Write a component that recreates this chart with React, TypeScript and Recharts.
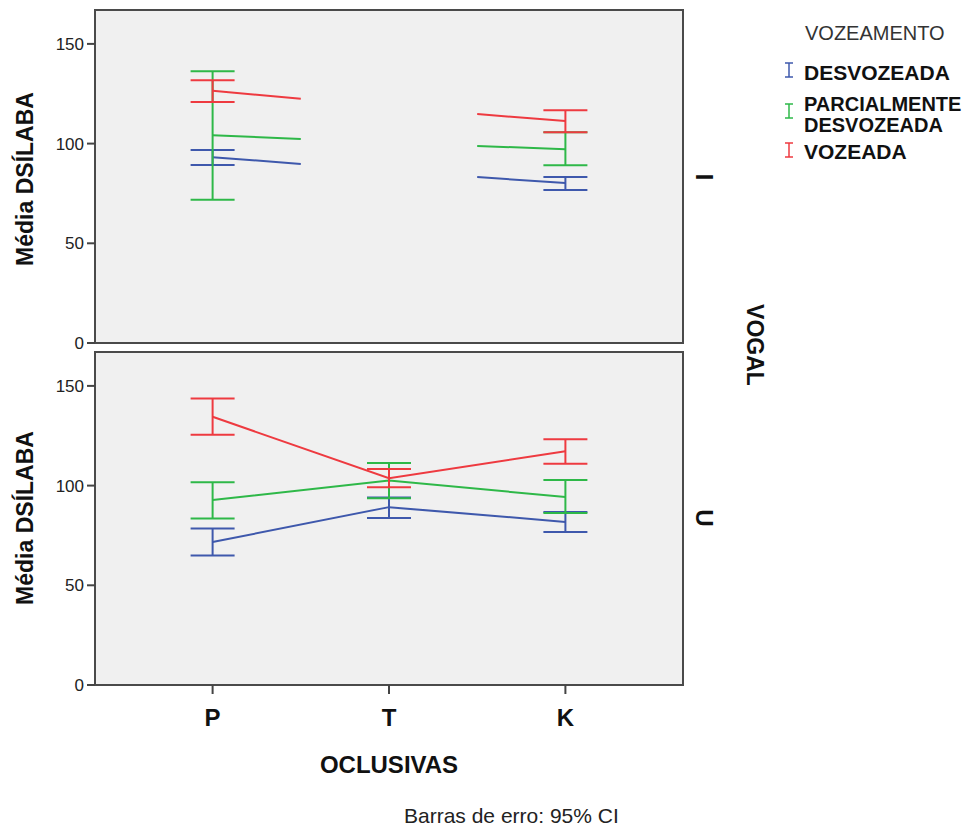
import React from 'react'
import { CartesianGrid, ErrorBar, Line, LineChart, ReferenceArea, XAxis, YAxis } from 'recharts'

const oclusivas = ['P', 'T', 'K']
const vogais = ['I', 'U']

const series = [
    { key: 'desv', name: 'DESVOZEADA', color: '#3E58AC' },
    { key: 'parc', name: 'PARCIALMENTE DESVOZEADA', color: '#2EB848' },
    { key: 'voz', name: 'VOZEADA', color: '#EE3A40' },
]

// vogal I (T sem valor)
const iMedia = { desv: [93.2, null, 80.2], parc: [104.2, null, 97.2], voz: [126.5, null, 111.3] }
const iInf = { desv: [89.3, null, 76.7], parc: [71.8, null, 89.2], voz: [120.8, null, 105.7] }
const iSup = { desv: [96.8, null, 83.3], parc: [136.3, null, 105.7], voz: [131.8, null, 116.7] }
// pontas dos segmentos que saem de P e chegam em K
const iPontaP = { desv: 89.8, parc: 102.3, voz: 122.5 }
const iPontaK = { desv: 83.2, parc: 98.8, voz: 114.8 }

// vogal U
const uMedia = { desv: [71.7, 89.2, 81.8], parc: [92.8, 102.5, 94.3], voz: [134.5, 103.7, 117.2] }
const uInf = { desv: [65, 83.8, 76.7], parc: [83.5, 93.7, 86.2], voz: [125.5, 99.2, 111] }
const uSup = { desv: [78.5, 94, 86.7], parc: [101.7, 111.3, 102.8], voz: [143.7, 108.3, 123.2] }

const yTicks = [0, 50, 100, 150]

type Vals = Record<string, (number | null)[]>

function buildRows(media: Vals, inf: Vals, sup: Vals) {
    return oclusivas.map((_, i) => {
        const row: any = { x: i }
        series.forEach(s => {
            const m = media[s.key][i]
            const lo = inf[s.key][i]
            const hi = sup[s.key][i]
            row[s.key] = m
            row[s.key + 'Err'] = m == null || lo == null || hi == null ? null : [m - lo, hi - m]
        })
        return row
    })
}

const rowsU = buildRows(uMedia, uInf, uSup)
const baseI = buildRows(iMedia, iInf, iSup)
const rowP: any = { x: 0.5 }
const rowK: any = { x: 1.5 }
series.forEach(s => {
    rowP[s.key] = (iPontaP as any)[s.key]
    rowK[s.key] = (iPontaK as any)[s.key]
})
const rowsI = [baseI[0], rowP, baseI[1], rowK, baseI[2]]

function Panel({ data, showX }: { data: any[], showX: boolean }) {
    return (
        <LineChart width={700} height={showX ? 400 : 360} data={data}
            margin={{ top: 10, right: 17, left: 35, bottom: showX ? 7 : 17 }}>
            <CartesianGrid horizontal={false} vertical={false} fill='#F0F0F0' />
            <XAxis type='number' dataKey='x' domain={[-2 / 3, 8 / 3]} ticks={[0, 1, 2]} interval={0}
                tickFormatter={(v: number) => oclusivas[v]} hide={!showX} height={50}
                axisLine={false} tickLine={{ stroke: '#444', strokeWidth: 2 }} tickSize={9} tickMargin={15}
                tick={{ fill: '#111', fontSize: 24, fontWeight: 'bold' }} />
            <YAxis type='number' domain={[0, 167]} ticks={yTicks} interval={0} width={60} axisLine={false}
                tickSize={8} tickMargin={3} tick={{ fill: '#222', fontSize: 17 }}
                tickLine={{ stroke: '#444', strokeWidth: 2 }} />
            <ReferenceArea x1={-2 / 3} x2={8 / 3} y1={0} y2={167} fill='none' fillOpacity={0}
                stroke='#4a4a4a' strokeWidth={2} />
            {series.map(s => (
                <Line key={s.key} type='linear' dataKey={s.key} stroke={s.color} strokeWidth={2}
                    dot={false} activeDot={false} connectNulls={false} isAnimationActive={false}>
                    <ErrorBar dataKey={s.key + 'Err'} width={22} stroke={s.color} strokeWidth={2} />
                </Line>
            ))}
        </LineChart>
    )
}

function App() {
    const bold = { fontWeight: 'bold' as const, fill: '#111' }
    return (
        <div style={{ position: 'absolute', left: 0, top: 0, width: 976, height: 828, background: '#fff',
            fontFamily: '"Liberation Sans", Arial, sans-serif' }}>
            <div style={{ position: 'absolute', left: 0, top: 0 }}>
                <Panel data={rowsI} showX={false} />
            </div>
            <div style={{ position: 'absolute', left: 0, top: 342 }}>
                <Panel data={rowsU} showX={true} />
            </div>
            <svg width={976} height={828} style={{ position: 'absolute', left: 0, top: 0, pointerEvents: 'none' }}>
                <text x={25} y={179} transform='rotate(-90 25 179)' textAnchor='middle' dominantBaseline='central'
                    fontSize={23} {...bold}>Média DSÍLABA</text>
                <text x={25} y={518} transform='rotate(-90 25 518)' textAnchor='middle' dominantBaseline='central'
                    fontSize={23} {...bold}>Média DSÍLABA</text>
                <text x={704} y={177} transform='rotate(90 704 177)' textAnchor='middle' dominantBaseline='central'
                    fontSize={24} {...bold}>{vogais[0]}</text>
                <text x={704} y={518} transform='rotate(90 704 518)' textAnchor='middle' dominantBaseline='central'
                    fontSize={24} {...bold}>{vogais[1]}</text>
                <text x={755} y={345} transform='rotate(90 755 345)' textAnchor='middle' dominantBaseline='central'
                    fontSize={23} {...bold}>VOGAL</text>
                <text x={389} y={773} textAnchor='middle' fontSize={24} {...bold}>OCLUSIVAS</text>
                <text x={404} y={823} fontSize={21} fill='#222'>Barras de erro: 95% CI</text>

                <text x={805} y={40} fontSize={20} fill='#333'>VOZEAMENTO</text>
                {[70, 111, 150].map((cy, i) => (
                    <g key={i} stroke={series[i].color} strokeWidth={1.5}>
                        <line x1={789} x2={789} y1={cy - 7} y2={cy + 7} />
                        <line x1={785} x2={793} y1={cy - 7} y2={cy - 7} />
                        <line x1={785} x2={793} y1={cy + 7} y2={cy + 7} />
                    </g>
                ))}
                <text x={804} y={80} fontSize={21} {...bold}>DESVOZEADA</text>
                <text x={804} y={111} fontSize={20} {...bold}>PARCIALMENTE</text>
                <text x={804} y={132} fontSize={20} {...bold}>DESVOZEADA</text>
                <text x={804} y={159} fontSize={21} {...bold}>VOZEADA</text>
            </svg>
        </div>
    )
}

export default App
